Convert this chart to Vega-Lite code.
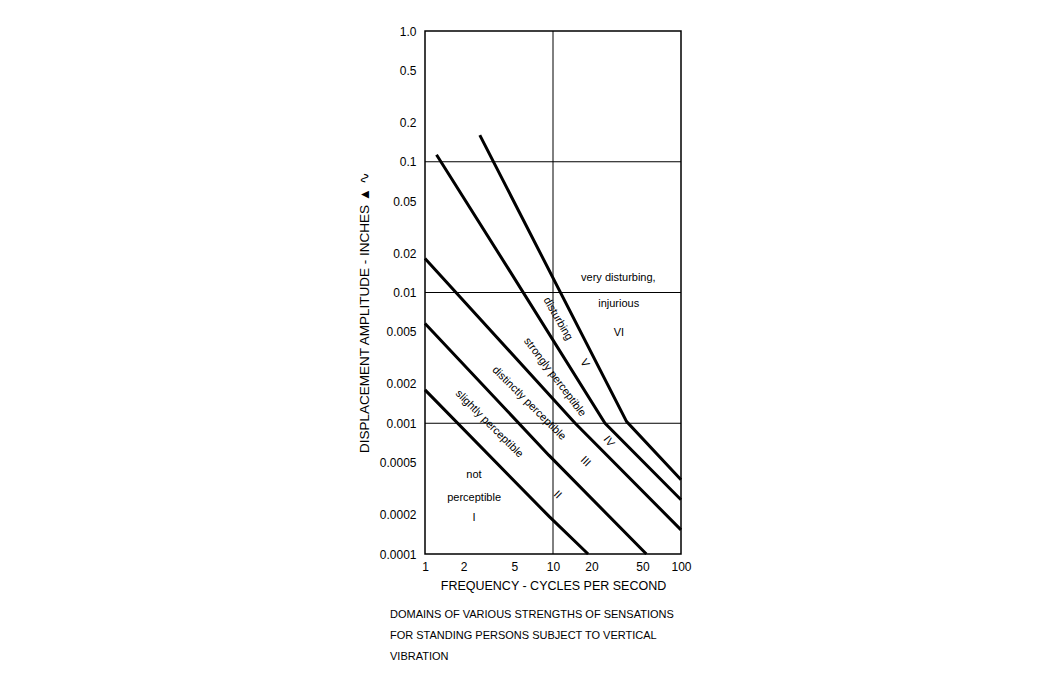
{
  "$schema": "https://vega.github.io/schema/vega-lite/v6.json",
  "width": 256,
  "height": 523,
  "autosize": {"type": "none"},
  "padding": {"left": 425, "top": 31, "right": 365, "bottom": 130},
  "background": "white",
  "config": {
    "font": "Liberation Sans",
    "view": {"stroke": "black", "strokeWidth": 1.5},
    "axis": {
      "domain": false,
      "ticks": false,
      "grid": false,
      "labelFont": "Liberation Sans",
      "labelFontSize": 12,
      "labelColor": "black",
      "titleFont": "Liberation Sans",
      "titleFontSize": 12,
      "titleFontWeight": "normal",
      "titleColor": "black"
    }
  },
  "title": {
    "text": [
      "DOMAINS OF VARIOUS STRENGTHS OF SENSATIONS",
      "FOR STANDING PERSONS SUBJECT TO VERTICAL",
      "VIBRATION"
    ],
    "orient": "bottom",
    "anchor": "start",
    "frame": "group",
    "dx": -35,
    "offset": 17,
    "font": "Liberation Sans",
    "fontSize": 11,
    "fontWeight": "normal",
    "lineHeight": 21,
    "color": "black"
  },
  "datasets": {
    "bounds": [
      {"line": "1", "f": 1, "a": 0.0018},
      {"line": "1", "f": 9.36, "a": 0.000193},
      {"line": "1", "f": 18.8, "a": 0.0001},
      {"line": "2", "f": 1, "a": 0.0058},
      {"line": "2", "f": 9.27, "a": 0.00057},
      {"line": "2", "f": 53.6, "a": 0.0001},
      {"line": "3", "f": 1, "a": 0.0182},
      {"line": "3", "f": 14.9, "a": 0.001},
      {"line": "3", "f": 100, "a": 0.000153},
      {"line": "4", "f": 1.23, "a": 0.113},
      {"line": "4", "f": 5.08, "a": 0.0125},
      {"line": "4", "f": 25.5, "a": 0.001},
      {"line": "4", "f": 100, "a": 0.00026},
      {"line": "5", "f": 2.68, "a": 0.16},
      {"line": "5", "f": 37.6, "a": 0.00103},
      {"line": "5", "f": 100, "a": 0.00037}
    ],
    "gridf": [{"f": 10}],
    "grida": [{"a": 0.1}, {"a": 0.01}, {"a": 0.001}],
    "labels": [
      {"label": "very disturbing,", "f": 32.4, "a": 0.0129},
      {"label": "injurious", "f": 32.6, "a": 0.00817},
      {"label": "VI", "f": 32.7, "a": 0.0049},
      {"label": "disturbing", "f": 10.9, "a": 0.00627},
      {"label": "V", "f": 17.6, "a": 0.00288},
      {"label": "strongly perceptible", "f": 10.3, "a": 0.00225},
      {"label": "IV", "f": 27.2, "a": 0.000723},
      {"label": "distinctly perceptible", "f": 6.48, "a": 0.00142},
      {"label": "III", "f": 17.9, "a": 0.000508},
      {"label": "slightly perceptible", "f": 3.17, "a": 0.000987},
      {"label": "II", "f": 10.8, "a": 0.000283},
      {"label": "not", "f": 2.41, "a": 0.000402},
      {"label": "perceptible", "f": 2.42, "a": 0.000267},
      {"label": "I", "f": 2.42, "a": 0.000188}
    ]
  },
  "layer": [
    {
      "data": {"name": "bounds"},
      "mark": {"type": "line", "color": "black", "strokeWidth": 3},
      "encoding": {
        "x": {
          "field": "f", "type": "quantitative",
          "scale": {"type": "log", "domain": [1, 100], "nice": false},
          "axis": {
            "values": [1, 2, 5, 10, 20, 50, 100],
            "title": "FREQUENCY - CYCLES PER SECOND",
            "titleFontSize": 12.5,
            "labelPadding": 7,
            "titlePadding": 7,
            "labelFlush": false,
            "labelOverlap": false
          }
        },
        "y": {
          "field": "a", "type": "quantitative",
          "scale": {"type": "log", "domain": [0.0001, 1], "nice": false},
          "axis": {
            "values": [1, 0.5, 0.2, 0.1, 0.05, 0.02, 0.01, 0.005, 0.002, 0.001, 0.0005, 0.0002, 0.0001],
            "labelExpr": "datum.value == 1 ? '1.0' : format(datum.value, '~g')",
            "title": "DISPLACEMENT AMPLITUDE - INCHES  ▲   ∿",
            "titleFontSize": 13.5,
            "labelPadding": 9,
            "titlePadding": 8,
            "titleY": 281,
            "labelFlush": false,
            "labelOverlap": false
          }
        },
        "detail": {"field": "line", "type": "nominal"}
      }
    },
    {
      "data": {"name": "gridf"},
      "mark": {"type": "rule", "color": "black", "strokeWidth": 1},
      "encoding": {
        "x": {"field": "f", "type": "quantitative", "scale": {"type": "log", "domain": [1, 100], "nice": false}}
      }
    },
    {
      "data": {"name": "grida"},
      "mark": {"type": "rule", "color": "black", "strokeWidth": 1},
      "encoding": {
        "y": {"field": "a", "type": "quantitative", "scale": {"type": "log", "domain": [0.0001, 1], "nice": false}}
      }
    },
    {
      "data": {"name": "labels"},
      "transform": [{"filter": {"field": "label", "oneOf": ["very disturbing,", "injurious", "VI", "not", "perceptible", "I"]}}],
      "mark": {"type": "text", "fontSize": 11, "color": "black", "font": "Liberation Sans"},
      "encoding": {
        "x": {"field": "f", "type": "quantitative", "scale": {"type": "log", "domain": [1, 100], "nice": false}},
        "y": {"field": "a", "type": "quantitative", "scale": {"type": "log", "domain": [0.0001, 1], "nice": false}},
        "text": {"field": "label"}
      }
    },
    {
      "data": {"name": "labels"},
      "transform": [{"filter": {"field": "label", "oneOf": ["disturbing", "V"]}}],
      "mark": {"type": "text", "fontSize": 11, "color": "black", "font": "Liberation Sans", "angle": 60},
      "encoding": {
        "x": {"field": "f", "type": "quantitative", "scale": {"type": "log", "domain": [1, 100], "nice": false}},
        "y": {"field": "a", "type": "quantitative", "scale": {"type": "log", "domain": [0.0001, 1], "nice": false}},
        "text": {"field": "label"}
      }
    },
    {
      "data": {"name": "labels"},
      "transform": [{"filter": {"field": "label", "oneOf": ["strongly perceptible", "IV"]}}],
      "mark": {"type": "text", "fontSize": 11, "color": "black", "font": "Liberation Sans", "angle": 53},
      "encoding": {
        "x": {"field": "f", "type": "quantitative", "scale": {"type": "log", "domain": [1, 100], "nice": false}},
        "y": {"field": "a", "type": "quantitative", "scale": {"type": "log", "domain": [0.0001, 1], "nice": false}},
        "text": {"field": "label"}
      }
    },
    {
      "data": {"name": "labels"},
      "transform": [{"filter": {"field": "label", "oneOf": ["distinctly perceptible", "III", "slightly perceptible", "II"]}}],
      "mark": {"type": "text", "fontSize": 11, "color": "black", "font": "Liberation Sans", "angle": 45},
      "encoding": {
        "x": {"field": "f", "type": "quantitative", "scale": {"type": "log", "domain": [1, 100], "nice": false}},
        "y": {"field": "a", "type": "quantitative", "scale": {"type": "log", "domain": [0.0001, 1], "nice": false}},
        "text": {"field": "label"}
      }
    }
  ]
}
